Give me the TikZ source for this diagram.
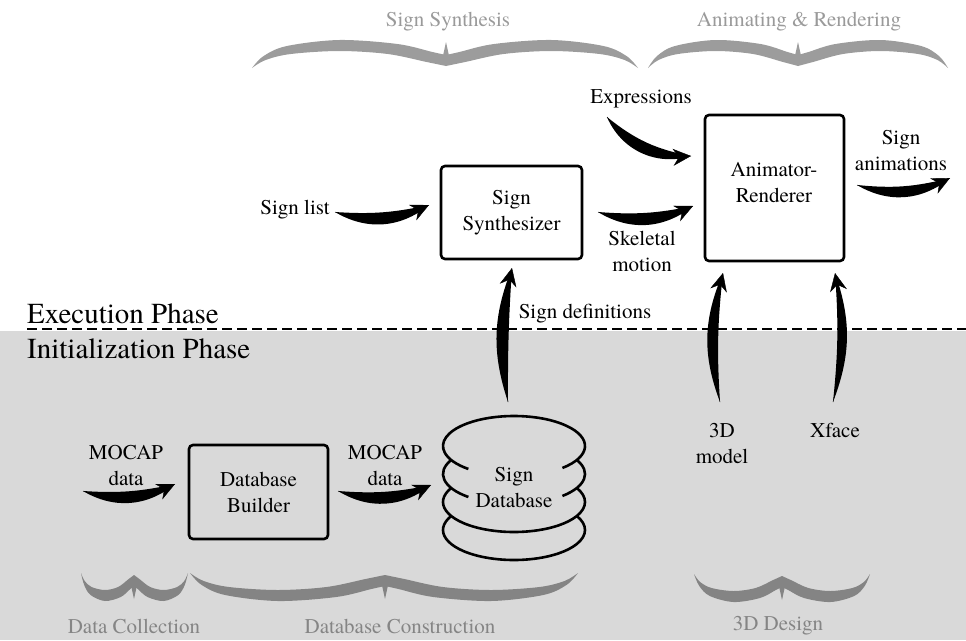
\documentclass[tikz,border=0pt]{standalone}
\usepackage{fontspec}
\setmainfont{TeX Gyre Termes}
\usetikzlibrary{arrows.meta}
\definecolor{bgg}{HTML}{D9D9D9}
\definecolor{brtop}{HTML}{9C9C9C}
\definecolor{brbot}{HTML}{848484}
\definecolor{lbltop}{HTML}{9A9A9A}
\definecolor{lblbot}{HTML}{858585}
\tikzset{
  lbl/.style={font=\fontsize{21}{26}\selectfont, align=center, inner sep=0pt},
  phase/.style={font=\fontsize{29}{32}\selectfont, inner sep=0pt, anchor=base west},
  boxnode/.style={draw, line width=2.6pt, rounded corners=4pt, align=center, inner sep=0pt,
    font=\fontsize{21}{26}\selectfont},
  tiparrow/.style={line width=0.4pt, -{Stealth[length=18pt,width=17pt,inset=6pt]}},
  dbline/.style={line width=2.6pt},
}
% tapered arrow: start, end, side, opposite side, outer bend, inner bend, mid bend
\newcommand\tarrow[7]{%
  \fill (#1) to[bend #3=#5] (#2) to[bend #4=#6] (#1);
  \draw[tiparrow] (#1) to[bend #3=#7] (#2);
}
% half brace: tip x, centre x, extreme y, direction (1 top, -1 bottom)
\newcommand\halfbrace[4]{%
  \begin{scope}[shift={(#1,#3)}, xscale={#2-#1}, yscale=#4]
    \fill plot[smooth, tension=0.55] coordinates {(0,28) (0.06,16) (0.18,6) (0.45,0) (0.75,4) (0.93,12) (1,15)}
      -- plot[smooth, tension=0.55] coordinates {(1,26) (0.9,22) (0.7,14) (0.45,11) (0.2,14) (0.07,20) (0,28)} -- cycle;
  \end{scope}}
\newcommand\fullbrace[5]{% left tip, centre, right tip, extreme y, direction
  \halfbrace{#1}{#2}{#4}{#5}\halfbrace{#3}{#2}{#4}{#5}
  \begin{scope}[shift={(#2,#4)}, yscale=#5]
    \fill (-3.5,18) -- (0,2) -- (3.5,18) -- cycle;
  \end{scope}}
\begin{document}
\begin{tikzpicture}[x=1pt, y=-1pt]
\useasboundingbox (0,0) rectangle (966,640);
% background of initialization phase
\fill[bgg] (0,331) rectangle (966,640);
\coordinate (dl1) at (27,329);
\coordinate (dl2) at (966,329);
\draw[line width=2.6pt, dash pattern=on 10pt off 5pt] (dl1) -- (dl2);
\node[phase] (exec) at (27,323) {Execution Phase};
\node[phase] (init) at (27,358) {Initialization Phase};

% braces
\begin{scope}[brtop]
  \fullbrace{252}{446}{638}{40}{1}
  \fullbrace{648}{798}{948}{40}{1}
\end{scope}
\begin{scope}[brbot]
  \fullbrace{81}{134}{188}{601}{-1}
  \fullbrace{190}{385}{578}{601}{-1}
  \fullbrace{694}{782}{870}{602}{-1}
\end{scope}
\node[lbl, lbltop] (t1) at (448,22) {Sign Synthesis};
\node[lbl, lbltop] (t2) at (799,22) {Animating \& Rendering};
\node[lbl, lblbot] (b1) at (134,626) {Data Collection};
\node[lbl, lblbot] (b2) at (400,626) {Database Construction};
\node[lbl, lblbot] (b3) at (778,626) {3D Design};

% boxes
\node[boxnode, minimum width=141pt, minimum height=93pt] (synth) at (511.5,212.5) {Sign\\Synthesizer};
\node[boxnode, minimum width=139pt, minimum height=146pt] (anim) at (774.5,188) {};
\node[lbl] (animtxt) at (774,183) {Animator-\\Renderer};
\node[boxnode, minimum width=139pt, minimum height=94pt] (dbb) at (258.5,492) {Database\\Builder};

% database stack
\begin{scope}[dbline]
  \draw ([shift={(-47:71pt and 30pt)}]514,446) arc[start angle=-47, end angle=230, x radius=71pt, y radius=30pt];
  \draw ([shift={(152:71pt and 30pt)}]514,474) arc[start angle=152, end angle=230, x radius=71pt, y radius=30pt];
  \draw ([shift={(-47:71pt and 30pt)}]514,474) arc[start angle=-47, end angle=28, x radius=71pt, y radius=30pt];
  \draw ([shift={(152:71pt and 30pt)}]514,502) arc[start angle=152, end angle=388, x radius=71pt, y radius=30pt];
  \draw ([shift={(152:71pt and 30pt)}]514,530) arc[start angle=152, end angle=388, x radius=71pt, y radius=30pt];
\end{scope}
\node[lbl] (db) at (514,487) {Sign\\Database};

% labels
\node[lbl] (signlist) at (295,210) {Sign list};
\node[lbl] (skel) at (642,251) {Skeletal\\motion};
\node[lbl] (expr) at (641,99) {Expressions};
\node[lbl] (sanim) at (901,151) {Sign\\animations};
\node[lbl] (sdef) at (585,314) {Sign definitions};
\node[lbl] (model) at (722,443) {3D\\model};
\node[lbl] (xface) at (835,430) {Xface};
\node[lbl] (mocap1) at (126,465) {MOCAP\\data};
\node[lbl] (mocap2) at (385,465) {MOCAP\\data};

% arrow end points
\coordinate (a1s) at (335,212); \coordinate (a1e) at (429,205);
\coordinate (a2s) at (598,212); \coordinate (a2e) at (693,206);
\coordinate (a3s) at (607,117); \coordinate (a3e) at (691,156);
\coordinate (a4s) at (857,185); \coordinate (a4e) at (950,178);
\coordinate (a5s) at (83,491);  \coordinate (a5e) at (175,484);
\coordinate (a6s) at (338,491); \coordinate (a6e) at (431,485);
\coordinate (a7s) at (508,402); \coordinate (a7e) at (512,268);
\coordinate (a8s) at (720,402); \coordinate (a8e) at (723,273);
\coordinate (a9s) at (833,402); \coordinate (a9e) at (835,273);

\tarrow{a1s}{a1e}{right}{left}{35}{8}{21}
\tarrow{a2s}{a2e}{right}{left}{35}{8}{21}
\tarrow{a3s}{a3e}{right}{left}{42}{14}{29}
\tarrow{a4s}{a4e}{right}{left}{35}{10}{22}
\tarrow{a5s}{a5e}{right}{left}{35}{8}{21}
\tarrow{a6s}{a6e}{right}{left}{35}{8}{21}
\tarrow{a7s}{a7e}{left}{right}{20}{2}{11}
\tarrow{a8s}{a8e}{left}{right}{22}{5}{13}
\tarrow{a9s}{a9e}{right}{left}{20}{5}{12}
\end{tikzpicture}
\end{document}
